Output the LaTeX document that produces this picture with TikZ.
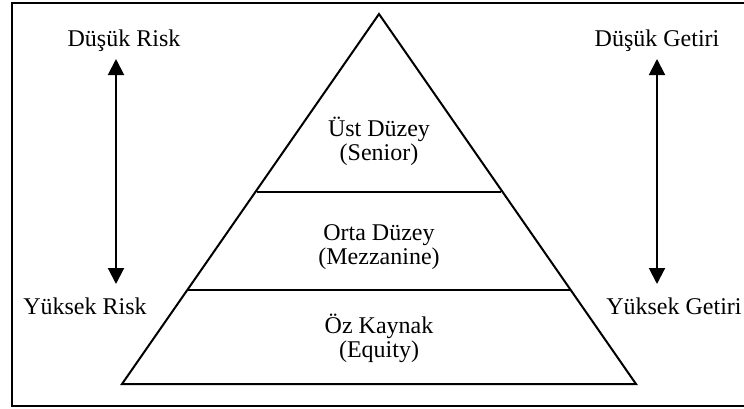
\documentclass[tikz,border=0pt]{standalone}
\usepackage{fontspec}
\setmainfont{Liberation Serif}
\usetikzlibrary{arrows.meta}
\begin{document}
\begin{tikzpicture}[x=0.5pt,y=-0.5pt,
  lbl/.style={font=\fontsize{12}{12}\selectfont, inner sep=0pt, align=center},
  ln/.style={line width=1pt},
  dbl/.style={line width=1pt, {Triangle[width=8pt,length=8pt]}-{Triangle[width=8pt,length=8pt]}}]
\clip (0,0) rectangle (744,408);
\useasboundingbox (0,0) rectangle (744,408);
\fill[white] (0,0) rectangle (744,408);
\draw[ln] (12,3) rectangle (780,406);
% pyramid
\coordinate (apex) at (379,14);
\coordinate (bl) at (122,384);
\coordinate (br) at (636,384);
\draw[ln, line join=miter] (apex) -- (bl) -- (br) -- cycle;
\coordinate (l1a) at (257,192);
\coordinate (l1b) at (501,192);
\coordinate (l2a) at (187,290);
\coordinate (l2b) at (571,290);
\draw[ln] (l1a) -- (l1b);
\draw[ln] (l2a) -- (l2b);
% tier labels
\node[lbl] (senior) at (379,141) {Üst Düzey\\(Senior)};
\node[lbl] (mezz) at (379,247) {Orta Düzey\\(Mezzanine)};
\node[lbl] (equity) at (379,338) {Öz Kaynak\\(Equity)};
% side labels
\node[lbl, anchor=base] (lrisk) at (124,46) {Düşük Risk};
\node[lbl, anchor=base] (hrisk) at (85,314) {Yüksek Risk};
\node[lbl, anchor=base] (lret) at (657,46) {Düşük Getiri};
\node[lbl, anchor=base east] (hret) at (742,314) {Yüksek Getiri};
% arrows
\coordinate (ra) at (116,59);
\coordinate (rb) at (116,284);
\coordinate (ga) at (657,59);
\coordinate (gb) at (657,284);
\draw[dbl] (ra) -- (rb);
\draw[dbl] (ga) -- (gb);
\end{tikzpicture}
\end{document}
